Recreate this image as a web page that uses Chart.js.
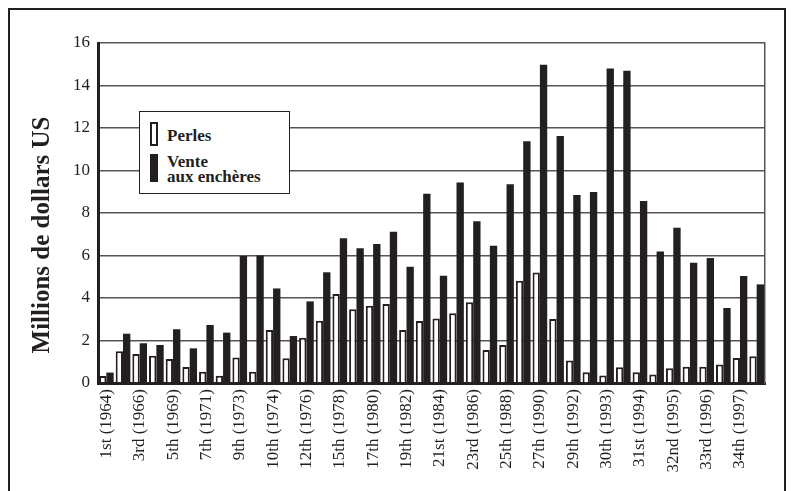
<!DOCTYPE html>
<html>
<head>
<meta charset="utf-8">
<title>Perles et vente aux enchères</title>
<script src="https://cdn.jsdelivr.net/npm/chart.js"></script>
<style>
  html, body { margin: 0; padding: 0; background: #fff; }
  body { width: 791px; height: 491px; position: relative; overflow: hidden; }
  #frame { position: absolute; left: 8px; top: 8px; width: 778px; height: 520px; border: 2px solid #231f20; box-sizing: border-box; }
  #chart { position: absolute; left: 0; top: 0; }
  .legend { position: absolute; left: 139px; top: 111px; width: 151px; height: 83px; box-sizing: border-box;
            border: 1.5px solid #231f20; background: #fff; color: #231f20;
            font-family: "Liberation Serif", "DejaVu Serif", serif; font-weight: bold; font-size: 17px; line-height: 15px; }
  .legend .sw { position: absolute; left: 10px; width: 8px; box-sizing: border-box; border: 2px solid #231f20; }
  .legend .txt { position: absolute; left: 27px; }
</style>
</head>
<body>
<div id="frame"></div>
<canvas id="chart" width="791" height="491"></canvas>
<div class="legend">
  <div class="sw" style="top:10px;height:24px;background:#fff"></div>
  <div class="txt" style="top:16px">Perles</div>
  <div class="sw" style="top:42px;height:28px;background:#231f20"></div>
  <div class="txt" style="top:42px">Vente<br>aux enchères</div>
</div>

<script>
    // catégories (une étiquette sur deux est affichée)
    const categories = ['1st (1964)', '', '3rd (1966)', '', '5th (1969)', '', '7th (1971)', '', '9th (1973)', '',
        '10th (1974)', '', '12th (1976)', '', '15th (1978)', '', '17th (1980)', '', '19th (1982)', '',
        '21st (1984)', '', '23rd (1986)', '', '25th (1988)', '', '27th (1990)', '', '29th (1992)', '',
        '30th (1993)', '', '31st (1994)', '', '32nd (1995)', '', '33rd (1996)', '', '34th (1997)', ''];

    // millions de dollars US
    const perles = [0.33, 1.5, 1.36, 1.28, 1.13, 0.75, 0.53, 0.34, 1.2, 0.53,
        2.49, 1.16, 2.13, 2.93, 4.19, 3.47, 3.64, 3.72, 2.49, 2.92,
        3.04, 3.28, 3.8, 1.55, 1.79, 4.81, 5.2, 3.01, 1.06, 0.51,
        0.35, 0.74, 0.51, 0.4, 0.69, 0.77, 0.77, 0.87, 1.18, 1.26];
    const ventes = [0.49, 2.32, 1.87, 1.79, 2.53, 1.63, 2.73, 2.37, 5.98, 6.0,
        4.45, 2.21, 3.84, 5.21, 6.81, 6.34, 6.54, 7.12, 5.47, 8.91,
        5.05, 9.43, 7.61, 6.46, 9.35, 11.38, 14.98, 11.62, 8.85, 8.99,
        14.8, 14.7, 8.57, 6.19, 7.31, 5.66, 5.88, 3.53, 5.04, 4.64];

    const yMin = 0, yMax = 16, yStep = 2;
    const yTitle = 'Millions de dollars US';

    const ink = '#231f20';
    const serif = '"Liberation Serif", "DejaVu Serif", serif';

    // titre de l'axe Y, décalé vers le bas comme dans l'original
    const yTitlePlugin = {
        id: 'yTitle',
        afterDraw(chart) {
            const ctx = chart.ctx;
            ctx.save();
            ctx.translate(43, 235);
            ctx.rotate(-Math.PI / 2);
            ctx.font = 'bold 25px ' + serif;
            ctx.fillStyle = ink;
            ctx.textAlign = 'center';
            ctx.textBaseline = 'middle';
            ctx.fillText(yTitle, 0, 0);
            ctx.restore();
        }
    };

    new Chart(document.getElementById('chart').getContext('2d'), {
        type: 'bar',
        data: {
            labels: categories,
            datasets: [{
                label: 'Perles',
                data: perles,
                backgroundColor: '#fff',
                borderColor: ink,
                borderWidth: 2,
                categoryPercentage: 0.88,
                barPercentage: 1.0
            }, {
                label: 'Vente aux enchères',
                data: ventes,
                backgroundColor: ink,
                borderWidth: 0,
                categoryPercentage: 0.88,
                barPercentage: 1.0
            }]
        },
        options: {
            responsive: false,
            animation: false,
            layout: { padding: { left: 0, top: 43, right: 26, bottom: 0 } },
            plugins: { legend: { display: false }, tooltip: { enabled: false } },
            scales: {
                x: {
                    grid: { display: false, drawTicks: false },
                    border: { display: true, color: ink, width: 3 },
                    ticks: {
                        autoSkip: false, maxRotation: 90, minRotation: 90, padding: 6,
                        color: ink, font: { family: serif, size: 17 }
                    },
                    afterFit(scale) { scale.height = 108; }
                },
                y: {
                    min: yMin, max: yMax,
                    grid: { color: '#555', lineWidth: 1.5, drawTicks: false },
                    border: { display: true, color: ink, width: 3 },
                    ticks: { stepSize: yStep, padding: 8, color: ink, font: { family: serif, size: 17 } },
                    afterFit(scale) { scale.width = 98; }
                },
                y2: {
                    position: 'right', min: yMin, max: yMax,
                    grid: { display: false, drawTicks: false },
                    border: { display: true, color: '#555', width: 1.5 },
                    ticks: { display: false },
                    afterFit(scale) { scale.width = 0; }
                }
            }
        },
        plugins: [yTitlePlugin]
    });
</script>
</body>
</html>
